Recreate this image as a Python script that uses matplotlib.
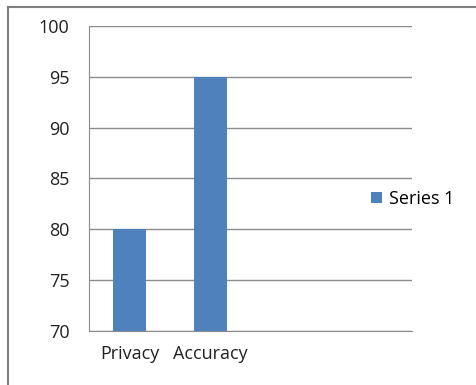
import matplotlib.pyplot as plt
from matplotlib.lines import Line2D

categories = ['Privacy', 'Accuracy', '', '']
values = [80, 95, None, None]
yticks = [70, 75, 80, 85, 90, 95, 100]

plt.rcParams['font.family'] = ['Open Sans', 'DejaVu Sans']

fig = plt.figure(figsize=(4.76, 3.85), dpi=100)
ax = fig.add_axes([0.187, 0.1403, 0.6786, 0.7922])

xs = [i for i, v in enumerate(values) if v is not None]
vs = [v for v in values if v is not None]
ax.bar(xs, vs, width=0.41, color='#4F81BD', label='Series 1', zorder=3)

ax.set_xlim(-0.5, len(categories) - 0.5)
ax.set_ylim(70, 100)
ax.set_yticks(yticks)
ax.set_xticks(range(len(categories)))
ax.set_xticklabels(categories)
ax.tick_params(axis='both', length=0, labelsize=13, colors='#222222')
ax.tick_params(axis='y', pad=14)
ax.tick_params(axis='x', pad=10)
ax.yaxis.grid(True, color='#8c8c8c', linewidth=1)
for s in ['top', 'right']:
    ax.spines[s].set_visible(False)
ax.spines['left'].set_color('#8c8c8c')
ax.spines['bottom'].set_color('#8c8c8c')

ax.legend(loc='center left', bbox_to_anchor=(371 / 476, 1 - 199 / 385),
          bbox_transform=fig.transFigure, frameon=False, borderpad=0, borderaxespad=0,
          fontsize=13, handlelength=0.6, handleheight=0.6, handletextpad=0.4)

# outer frame
fig.add_artist(Line2D([8 / 476, 8 / 476], [0, 1 - 7 / 385], color='#7f7f7f', linewidth=1.5,
                      transform=fig.transFigure))
fig.add_artist(Line2D([8 / 476, 1], [1 - 7 / 385, 1 - 7 / 385], color='#7f7f7f', linewidth=1.5,
                      transform=fig.transFigure))

fig.savefig('out.png', dpi=100)
